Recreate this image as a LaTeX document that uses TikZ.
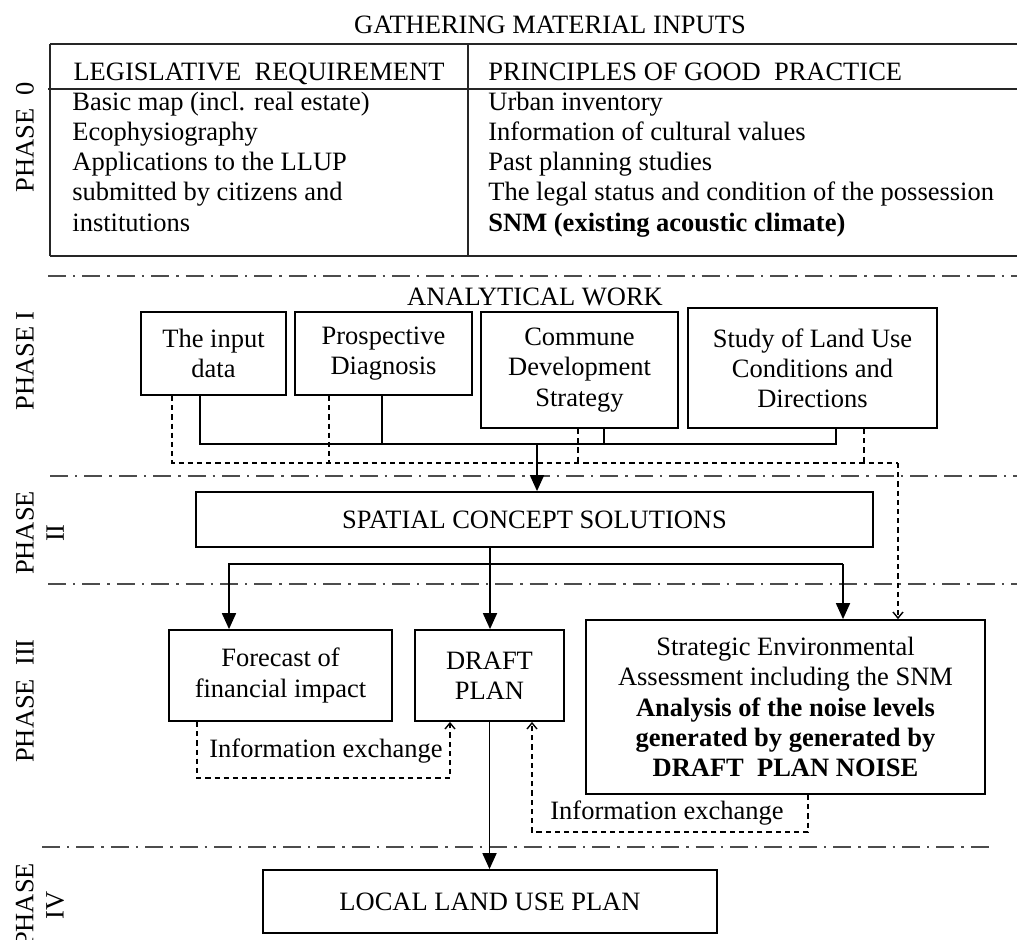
\documentclass[tikz,border=0pt]{standalone}
\usepackage{fontspec}
\setmainfont{Liberation Serif}
\usetikzlibrary{arrows.meta}
\begin{document}
\begin{tikzpicture}[x=0.5pt,y=-0.5pt,
  font=\fontsize{13.25}{15.1}\selectfont,
  box/.style 2 args={draw=black, line width=0.9pt, inner sep=0pt, align=center,
     minimum width=#1*0.5pt, minimum height=#2*0.5pt},
  lbl/.style={inner sep=0pt},
  tbl/.style={draw=black!85, line width=1pt},
  phaseline/.style={draw=black!70, line width=1.3pt, dash pattern=on 9pt off 3.5pt on 1.2pt off 3.5pt},
  lnk/.style={draw=black, line width=0.9pt},
  arr/.style={lnk, -{Triangle[length=8pt,width=7pt]}},
  dsh/.style={draw=black, line width=0.7pt, dash pattern=on 2.6pt off 2pt},
  darr/.style={dsh, -{Straight Barb[length=3pt,width=5pt]}}
]
\useasboundingbox (0,0) rectangle (1017,939);

% ---------- Phase 0 ----------
\node[lbl, anchor=base] (title) at (550,33) {GATHERING MATERIAL INPUTS};
\draw[tbl] (50,44) -- (1017,44);
\draw[tbl] (48,89) -- (1017,89);
\draw[tbl] (50,256) -- (1017,256);
\draw[tbl] (50,44) -- (50,256);
\draw[tbl] (468,44) -- (468,256);
\node[lbl, anchor=base] (hl) at (259,80) {LEGISLATIVE\ \ REQUIREMENT};
\node[lbl, anchor=base west] (hr) at (488,80) {PRINCIPLES OF GOOD\ \ PRACTICE};
\node[lbl, anchor=base west, align=left] (ll) at (72,231) {Basic map (incl. real estate)\\Ecophysiography\\Applications to the LLUP\\submitted by citizens and\\institutions};
\node[lbl, anchor=base west, align=left] (rl) at (488,231) {Urban inventory\\Information of cultural values\\Past planning studies\\The legal status and condition of the possession\\\textbf{SNM (existing acoustic climate)}};
\node[lbl, rotate=90] (p0) at (25,137) {PHASE~~0};

% ---------- separators ----------
\draw[phaseline] (48,276) -- (1017,276);
\draw[phaseline] (50,476) -- (1017,476);
\draw[phaseline] (48,584) -- (1017,584);
\draw[phaseline] (42,847) -- (990,847);

% ---------- Phase I ----------
\node[lbl, anchor=base] (aw) at (535,305) {ANALYTICAL WORK};
\node[lbl, rotate=90] (p1) at (25,361) {PHASE I};
\node[box={145}{83}] (input) at (213.5,353.5) {The input\\data};
\node[box={177}{83}] (pros) at (383.5,353.5) {Prospective\\Diagnosis};
\node[box={197}{116}] (comm) at (579.5,370) {Commune\\Development\\Strategy};
\node[box={249}{120}] (study) at (812.5,368) {Study of Land Use\\Conditions and\\Directions};

% ---------- Phase II ----------
\node[lbl, rotate=90, align=center] (p2) at (40,533) {PHASE\\II};
\node[box={677}{55}] (spatial) at (534.5,519.5) {SPATIAL CONCEPT SOLUTIONS};

% ---------- Phase III ----------
\node[lbl, rotate=90] (p3) at (25,701) {PHASE~~III};
\node[box={223}{91}] (fore) at (280.5,675.5) {Forecast of\\financial impact};
\node[box={149}{91}] (draft) at (489.5,675.5) {DRAFT\\PLAN};
\node[box={399}{174}] (sea) at (785.5,707) {Strategic Environmental\\Assessment including the SNM\\\textbf{Analysis of the noise levels}\\\textbf{generated by generated by}\\\textbf{DRAFT\ \ PLAN NOISE}};
\node[lbl] (ie1) at (326,751) {Information exchange};
\node[lbl] (ie2) at (667,813) {Information exchange};

% ---------- Phase IV ----------
\node[lbl, rotate=90, align=center] (p4) at (40,905) {PHASE\\IV};
\node[box={454}{63}] (local) at (490,901.5) {LOCAL LAND USE PLAN};

% ---------- connectors: phase I -> II ----------
\coordinate (bA) at (200,444);
\coordinate (bB) at (382,444);
\coordinate (bC) at (604,444);
\coordinate (bD) at (836,444);
\coordinate (bM) at (537,444);
\draw[lnk] (input.south -| bA) -- (bA) -- (bD) -- (study.south -| bD);
\draw[lnk] (pros.south -| bB) -- (bB);
\draw[lnk] (comm.south -| bC) -- (bC);
\draw[arr] (bM) -- (spatial.north -| bM);

\coordinate (dA) at (172,463);
\coordinate (dB) at (329,463);
\coordinate (dC) at (578,463);
\coordinate (dD) at (864,463);
\coordinate (dR) at (898,463);
\draw[dsh] (input.south -| dA) -- (dA) -- (dR);
\draw[dsh] (pros.south -| dB) -- (dB);
\draw[dsh] (comm.south -| dC) -- (dC);
\draw[dsh] (study.south -| dD) -- (dD);
\draw[darr] (dR) -- (sea.north -| dR);

% ---------- connectors: phase II -> III ----------
\coordinate (sL) at (229,564);
\coordinate (sM) at (490,564);
\coordinate (sR) at (843,564);
\draw[lnk] (spatial.south -| sM) -- (sM);
\draw[arr] (sR) -- (sL) -- (fore.north -| sL);
\draw[arr] (sM) -- (draft.north -| sM);
\draw[arr] (sR) -- (sea.north -| sR);

% ---------- information exchange ----------
\coordinate (e1a) at (197,778);
\coordinate (e1b) at (450,778);
\draw[darr] (fore.south -| e1a) -- (e1a) -- (e1b) -- (draft.south -| e1b);
\coordinate (e2a) at (808,832);
\coordinate (e2b) at (532,832);
\draw[darr] (sea.south -| e2a) -- (e2a) -- (e2b) -- (draft.south -| e2b);

% ---------- phase III -> IV ----------
\draw[arr] (draft.south) -- (local.north -| draft.south);
\end{tikzpicture}
\end{document}
